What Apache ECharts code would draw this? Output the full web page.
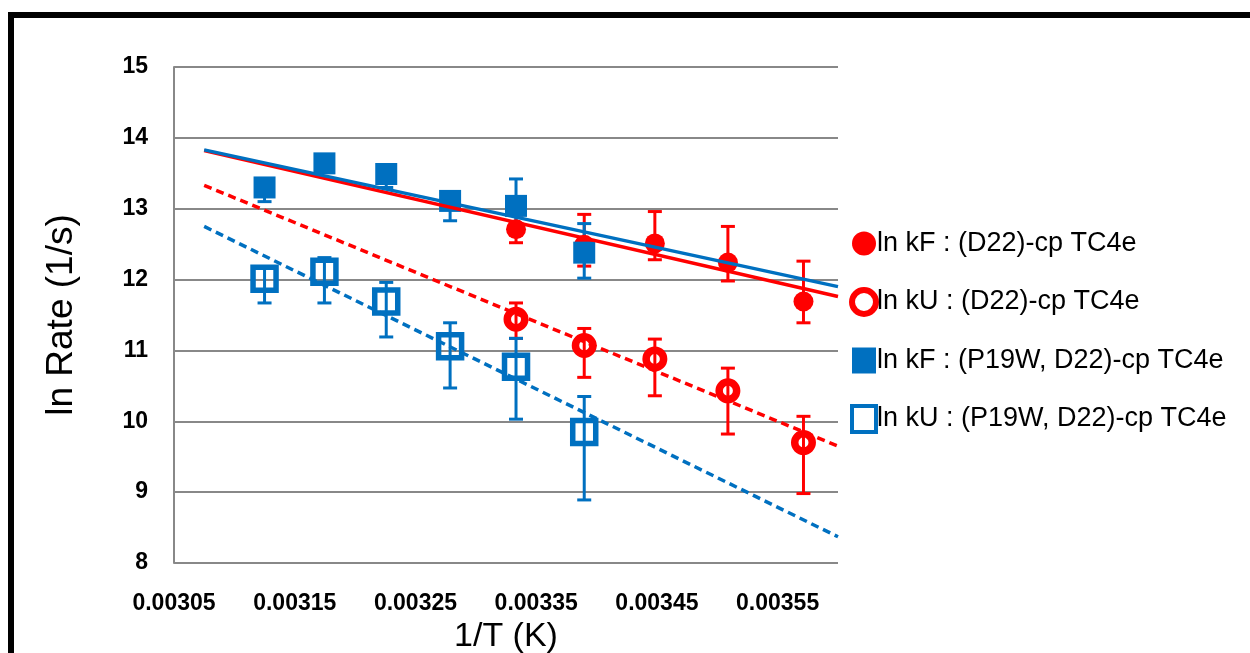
<!DOCTYPE html>
<html>
<head>
<meta charset="utf-8">
<script src="https://cdn.jsdelivr.net/npm/echarts@6/dist/echarts.min.js"></script>
<style>html,body{margin:0;padding:0;background:#fff}#c{width:1250px;height:653px}</style>
</head>
<body>
<div id="c"></div>
<script>
// 1/T values (K^-1)
var xRed = [0.0033333, 0.0033898, 0.0034483, 0.0035088, 0.0035714];
var xBlue = [0.003125, 0.0031746, 0.0032258, 0.0032787, 0.0033333, 0.0033898];

// ln kF : (D22)-cp TC4e
var kFRed = [12.71, 12.49, 12.51, 12.24, 11.69];
var kFRedUp = [0.20, 0.43, 0.45, 0.51, 0.57];
var kFRedDn = [0.19, 0.30, 0.23, 0.26, 0.30];
// ln kU : (D22)-cp TC4e
var kURed = [11.44, 11.07, 10.88, 10.43, 9.70];
var kURedUp = [0.23, 0.24, 0.28, 0.32, 0.37];
var kURedDn = [0.27, 0.45, 0.52, 0.61, 0.72];
// ln kF : (P19W, D22)-cp TC4e
var kFBlue = [13.30, 13.64, 13.49, 13.11, 13.04, 12.38];
var kFBlueUp = [0.10, 0.10, 0.10, 0.10, 0.38, 0.41];
var kFBlueDn = [0.20, 0.10, 0.19, 0.28, 0.35, 0.36];
// ln kU : (P19W, D22)-cp TC4e
var kUBlue = [12.01, 12.11, 11.69, 11.06, 10.77, 9.85];
var kUBlueUp = [0.15, 0.20, 0.27, 0.33, 0.40, 0.50];
var kUBlueDn = [0.34, 0.44, 0.50, 0.59, 0.74, 0.96];

// trendline endpoints
var trendX = [0.003075, 0.0036];
var trendFRed = [13.82, 11.76];
var trendFBlue = [13.83, 11.90];
var trendURed = [13.33, 9.65];
var trendUBlue = [12.75, 8.37];

var names = ['ln kF : (D22)-cp TC4e', 'ln kU : (D22)-cp TC4e',
             'ln kF : (P19W, D22)-cp TC4e', 'ln kU : (P19W, D22)-cp TC4e'];

var RED = '#FF0000', BLUE = '#0070C0';
var FONT = 'Liberation Sans';

function pts(xs, ys) { return xs.map(function (x, i) { return [x, ys[i]]; }); }
function errData(xs, ys, up, dn) { return xs.map(function (x, i) { return [x, ys[i] - dn[i], ys[i] + up[i]]; }); }

function errSeries(xs, ys, up, dn, color) {
  return {
    type: 'custom', z: 2, silent: true,
    data: errData(xs, ys, up, dn),
    renderItem: function (params, api) {
      var lo = api.coord([api.value(0), api.value(1)]);
      var hi = api.coord([api.value(0), api.value(2)]);
      var w = 7;
      var st = { stroke: color, lineWidth: 3 };
      return {
        type: 'group', children: [
          { type: 'line', shape: { x1: lo[0], y1: lo[1], x2: hi[0], y2: hi[1] }, style: st },
          { type: 'line', shape: { x1: lo[0] - w, y1: lo[1], x2: lo[0] + w, y2: lo[1] }, style: st },
          { type: 'line', shape: { x1: hi[0] - w, y1: hi[1], x2: hi[0] + w, y2: hi[1] }, style: st }
        ]
      };
    }
  };
}
function trend(ys, color, dashed) {
  return {
    type: 'line', z: 5, silent: true, symbol: 'none',
    data: pts(trendX, ys),
    lineStyle: { color: color, width: dashed ? 3.5 : 3.5, type: dashed ? [8, 5] : 'solid' }
  };
}

var chart = echarts.init(document.getElementById('c'), null, { renderer: 'canvas' });
chart.setOption({
  animation: false,
  backgroundColor: '#fff',
  grid: { left: 174, right: 412, top: 67, bottom: 90, containLabel: false, outerBoundsMode: 'none' },
  xAxis: {
    type: 'value', min: 0.00305, max: 0.0036, interval: 0.00005,
    name: '1/T (K)', nameLocation: 'middle', nameGap: 53,
    nameTextStyle: { fontFamily: FONT, fontSize: 34, color: '#000' },
    axisLine: { show: false }, axisTick: { show: false }, splitLine: { show: false },
    axisLabel: {
      margin: 29, fontFamily: FONT, fontWeight: 'bold', fontSize: 23, color: '#000',
      formatter: function (v, i) { return i % 2 === 0 ? v.toFixed(5) : ''; }
    }
  },
  yAxis: {
    type: 'value', min: 8, max: 15, interval: 1,
    name: 'ln Rate (1/s)', nameLocation: 'middle', nameGap: 94, nameRotate: 90,
    nameTextStyle: { fontFamily: FONT, fontSize: 37, color: '#000' },
    axisLine: { show: true, lineStyle: { color: '#888', width: 2 } },
    axisTick: { show: false },
    splitLine: { show: true, lineStyle: { color: '#888', width: 2 } },
    axisLabel: { margin: 26, fontFamily: FONT, fontWeight: 'bold', fontSize: 23, color: '#000' }
  },
  legend: {
    orient: 'vertical', left: 844, top: 225, itemGap: 30, itemWidth: 24, itemHeight: 26,
    data: [
      { name: names[0] },
      { name: names[1], itemStyle: { borderWidth: 6 } },
      { name: names[2] },
      { name: names[3], itemStyle: { borderWidth: 4 } }
    ],
    textStyle: { fontFamily: FONT, fontSize: 27, color: '#000', padding: [0, 0, 0, -4] }
  },
  graphic: [{
    type: 'rect', silent: true, z: 100,
    shape: { x: 11, y: 15, width: 1400, height: 800 },
    style: { fill: 'none', stroke: '#000', lineWidth: 6 }
  }],
  series: [
    errSeries(xRed, kFRed, kFRedUp, kFRedDn, RED),
    { name: names[0], type: 'scatter', z: 3, symbol: 'circle', symbolSize: 20,
      data: pts(xRed, kFRed), itemStyle: { color: RED, opacity: 1 } },
    errSeries(xRed, kURed, kURedUp, kURedDn, RED),
    { name: names[1], type: 'scatter', z: 3, symbol: 'circle', symbolSize: 17.5,
      data: pts(xRed, kURed), itemStyle: { color: 'rgba(255,255,255,0)', borderColor: RED, borderWidth: 7.5, opacity: 1 } },
    errSeries(xBlue, kFBlue, kFBlueUp, kFBlueDn, BLUE),
    { name: names[2], type: 'scatter', z: 4, symbol: 'rect', symbolSize: 22,
      data: pts(xBlue, kFBlue), itemStyle: { color: BLUE, opacity: 1 } },
    errSeries(xBlue, kUBlue, kUBlueUp, kUBlueDn, BLUE),
    { name: names[3], type: 'scatter', z: 4, symbol: 'rect', symbolSize: 23,
      data: pts(xBlue, kUBlue), itemStyle: { color: 'rgba(255,255,255,0)', borderColor: BLUE, borderWidth: 5.5, opacity: 1 } },
    trend(trendFRed, RED, false),
    trend(trendFBlue, BLUE, false),
    trend(trendURed, RED, true),
    trend(trendUBlue, BLUE, true)
  ]
});
</script>
</body>
</html>
